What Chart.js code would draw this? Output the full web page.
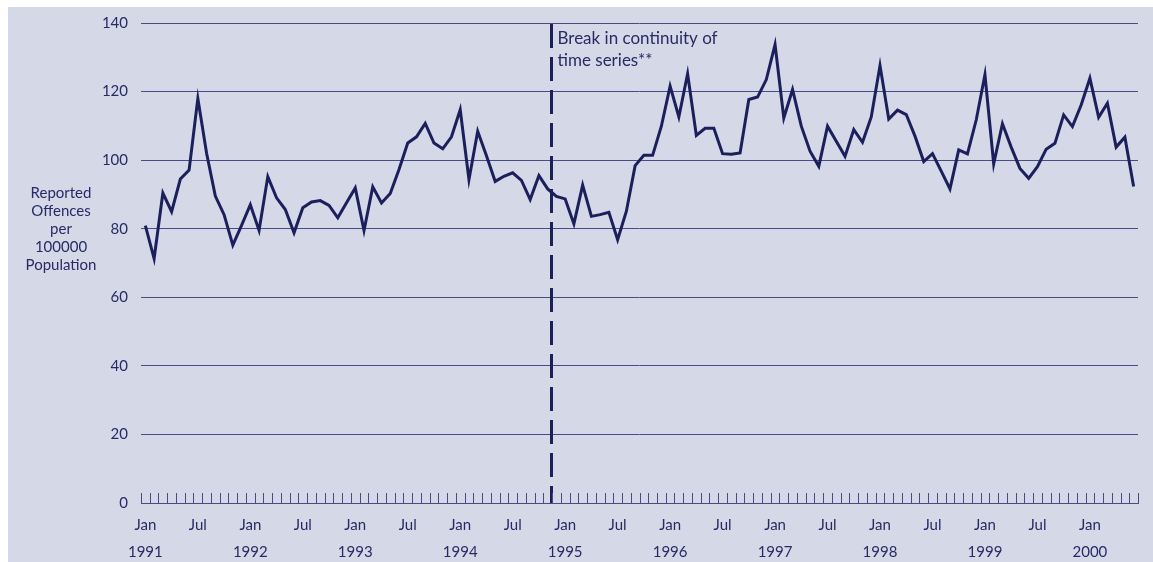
<!DOCTYPE html>
<html>
<head>
<meta charset="utf-8">
<script src="https://cdn.jsdelivr.net/npm/chart.js@4"></script>
<style>
  html, body { margin: 0; padding: 0; background: #ffffff; }
  canvas { display: block; }
</style>
</head>
<body>
<canvas id="c" width="1153" height="562"></canvas>
<script>
// ---- data ----
const monthNames = ["Jan","Feb","Mar","Apr","May","Jun","Jul","Aug","Sep","Oct","Nov","Dec"];
const years = [1991, 1992, 1993, 1994, 1995, 1996, 1997, 1998, 1999, 2000];
const v1991 = [80.9, 71.3, 90.4, 85.0, 94.5, 97.1, 118.0, 102.0, 89.5, 84.1, 75.2, 81.0];
const v1992 = [87.0, 79.5, 95.2, 89.0, 85.6, 78.8, 86.1, 87.8, 88.2, 86.8, 83.2, 87.6];
const v1993 = [91.9, 79.5, 92.2, 87.5, 90.3, 97.3, 105.0, 106.8, 110.7, 105.0, 103.3, 106.8];
const v1994 = [114.7, 94.3, 108.4, 101.3, 93.8, 95.3, 96.3, 94.1, 88.5, 95.5, 91.6, 89.4];
const v1995 = [88.7, 81.4, 92.7, 83.6, 84.1, 84.8, 76.8, 85.1, 98.4, 101.4, 101.4, 109.9];
const v1996 = [121.6, 112.6, 125.2, 107.2, 109.3, 109.3, 101.9, 101.7, 102.1, 117.7, 118.4, 123.5];
const v1997 = [133.7, 112.3, 120.6, 109.9, 102.6, 98.2, 109.9, 105.5, 101.1, 108.9, 105.2, 112.6];
const v1998 = [127.6, 112.0, 114.6, 113.3, 107.0, 99.6, 101.9, 96.8, 91.6, 103.0, 101.8, 111.7];
const v1999 = [124.9, 98.9, 110.6, 103.8, 97.6, 94.7, 98.1, 103.2, 104.9, 113.2, 109.8, 116.1];
const v2000 = [123.9, 112.5, 116.6, 103.8, 106.7, 92.3];
const yTicks = [0, 20, 40, 60, 80, 100, 120, 140];
const yTitleLines = ["Reported", "Offences", "per", "100000", "Population"];
const breakNote = ["Break in continuity of", "time series**"];
const breakAfter = "Nov 1994";

const series = [].concat(v1991, v1992, v1993, v1994, v1995, v1996, v1997, v1998, v1999, v2000);
const labels = series.map((_, i) => monthNames[i % 12] + " " + years[Math.floor(i / 12)]);

// ---- styles ----
const FONT = "Lato, 'Noto Sans', sans-serif";
const TEXT = "#262b66";
const LINE = "#1b1f5c";
const GRID = "#474c86";
const PANEL = "#d5d8e6";

const decor = {
  id: "decor",
  beforeDraw(chart) {
    const ctx = chart.ctx;
    ctx.save();
    ctx.fillStyle = "#ffffff";
    ctx.fillRect(0, 0, chart.width, chart.height);
    ctx.fillStyle = PANEL;
    ctx.fillRect(8, 7, chart.width - 8, chart.height - 7);
    ctx.restore();
  },
  beforeDatasetsDraw(chart) {
    const ctx = chart.ctx, x = chart.scales.x, a = chart.chartArea;
    const bi = labels.indexOf(breakAfter);
    const bx = Math.round(x.getPixelForValue(bi + 0.5)) - 0.5;
    ctx.save();
    ctx.strokeStyle = LINE;
    ctx.lineWidth = 3;
    ctx.setLineDash([24, 9]);
    ctx.beginPath();
    ctx.moveTo(bx, a.top + 1);
    ctx.lineTo(bx, a.bottom);
    ctx.stroke();
    ctx.setLineDash([]);
    ctx.fillStyle = TEXT;
    ctx.font = "17px " + FONT;
    ctx.textAlign = "left";
    ctx.textBaseline = "middle";
    ctx.fillText(breakNote[0], bx + 6, 39);
    ctx.fillText(breakNote[1], bx + 6, 61);
    ctx.restore();
  },
  afterDraw(chart) {
    const ctx = chart.ctx, x = chart.scales.x, a = chart.chartArea;
    ctx.save();
    ctx.strokeStyle = GRID;
    ctx.lineWidth = 1;
    ctx.beginPath();
    for (let i = 0; i <= series.length; i++) {
      const px = Math.round(x.getPixelForValue(i - 0.5)) + 0.5;
      ctx.moveTo(px, a.bottom - 10);
      ctx.lineTo(px, a.bottom);
    }
    ctx.stroke();
    // y-axis title (horizontal, stacked)
    ctx.fillStyle = TEXT;
    ctx.font = "15px " + FONT;
    ctx.textAlign = "center";
    ctx.textBaseline = "middle";
    const y80 = chart.scales.y.getPixelForValue(80);
    yTitleLines.forEach((t, k) => ctx.fillText(t, 61, y80 + (k - 2) * 18));
    ctx.restore();
  }
};

new Chart(document.getElementById("c"), {
  type: "line",
  data: {
    labels: labels,
    datasets: [{
      data: series,
      borderColor: LINE,
      borderWidth: 3,
      pointRadius: 0,
      tension: 0,
      fill: false,
      borderJoinStyle: "miter"
    }]
  },
  options: {
    responsive: false,
    devicePixelRatio: 1,
    animation: false,
    layout: { padding: { left: 0, right: 15, top: 23, bottom: 0 } },
    plugins: { legend: { display: false }, tooltip: { enabled: false } },
    scales: {
      x: {
        type: "category",
        offset: true,
        grid: { display: false, drawTicks: false },
        border: { display: true, color: GRID, width: 1 },
        afterFit(s) { s.height = 59; },
        ticks: {
          autoSkip: false,
          maxRotation: 0,
          minRotation: 0,
          padding: 8,
          color: TEXT,
          font: { family: FONT, size: 15, lineHeight: 1.85 },
          callback(val, i) {
            const m = i % 12;
            if (m === 0) return ["Jan", String(years[Math.floor(i / 12)])];
            if (m === 6) return "Jul";
            return "";
          }
        }
      },
      y: {
        min: 0,
        max: 140,
        afterFit(s) { s.width = 141; },
        afterBuildTicks(s) { s.ticks = yTicks.map(v => ({ value: v })); },
        grid: { color: GRID, lineWidth: 1, drawTicks: false },
        border: { display: false },
        ticks: {
          padding: 13,
          color: TEXT,
          font: { family: FONT, size: 15 }
        }
      }
    }
  },
  plugins: [decor]
});
</script>
</body>
</html>
